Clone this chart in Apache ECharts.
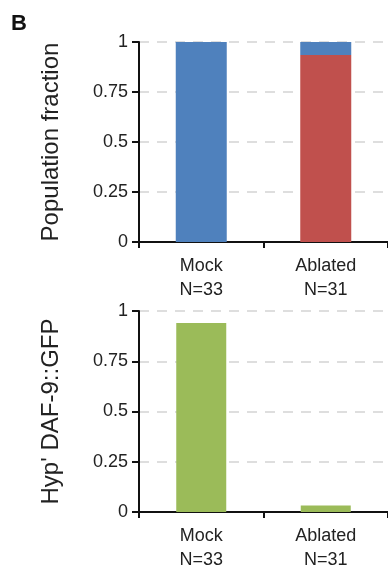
<!DOCTYPE html>
<html><head><meta charset="utf-8">
<script src="https://cdn.jsdelivr.net/npm/echarts@6/dist/echarts.min.js"></script>
<style>html,body{margin:0;padding:0;background:#fff}#c{width:388px;height:575px}</style>
</head><body><div id="c"></div>
<script>
const categories = ['Mock', 'Ablated'];
const counts = ['N=33', 'N=31'];
const yTicks = [0, 0.25, 0.5, 0.75, 1];
const topRed = [0, 0.935];
const topBlue = [1, 0.065];
const bottomGreen = [0.94, 0.032];
const yTitles = ['Population fraction', "Hyp' DAF-9::GFP"];

const font = '"Liberation Sans", Arial, sans-serif';
const txt = '#222';
const chart = echarts.init(document.getElementById('c'));

function xAxis(gi) {
  return {
    type: 'category', gridIndex: gi, data: categories,
    axisLine: {lineStyle: {color: '#111', width: 2}},
    axisTick: {show: true, length: 6, lineStyle: {color: '#111', width: 2}},
    axisLabel: {
      color: txt, fontFamily: font, fontSize: 18, lineHeight: 24, margin: 12,
      formatter: (v, i) => v + '\n' + counts[i]
    }
  };
}
function yAxis(gi) {
  return {
    type: 'value', gridIndex: gi, min: 0, max: 1, interval: 0.25,
    name: yTitles[gi], nameLocation: 'middle', nameGap: 76,
    nameTextStyle: {color: txt, fontFamily: font, fontSize: 24},
    axisLine: {show: true, lineStyle: {color: '#111', width: 2}},
    axisTick: {show: true, length: 7, lineStyle: {color: '#111', width: 2}},
    axisLabel: {
      color: txt, fontFamily: font, fontSize: 18, margin: 11,
      formatter: v => (yTicks.indexOf(v) >= 0 ? String(v) : '')
    },
    splitLine: {show: true, lineStyle: {color: '#d4d4d4', type: [10, 8], width: 1.5}}
  };
}

chart.setOption({
  animation: false,
  backgroundColor: '#fff',
  graphic: [{type: 'text', left: 11, top: 13,
    style: {text: 'B', font: 'bold 22px ' + font, fill: '#111'}}],
  grid: [
    {left: 139, right: -6, top: 42, height: 200},
    {left: 139, right: -6, top: 311, height: 201}
  ],
  xAxis: [xAxis(0), xAxis(1)],
  yAxis: [yAxis(0), yAxis(1)],
  series: [
    {type: 'bar', xAxisIndex: 0, yAxisIndex: 0, stack: 'a', data: topRed,
     barWidth: 51, itemStyle: {color: '#C0504D'}},
    {type: 'bar', xAxisIndex: 0, yAxisIndex: 0, stack: 'a', data: topBlue,
     barWidth: 51, itemStyle: {color: '#4F81BD'}},
    {type: 'bar', xAxisIndex: 1, yAxisIndex: 1, data: bottomGreen,
     barWidth: 50, itemStyle: {color: '#9BBB59'}}
  ]
});
</script></body></html>
